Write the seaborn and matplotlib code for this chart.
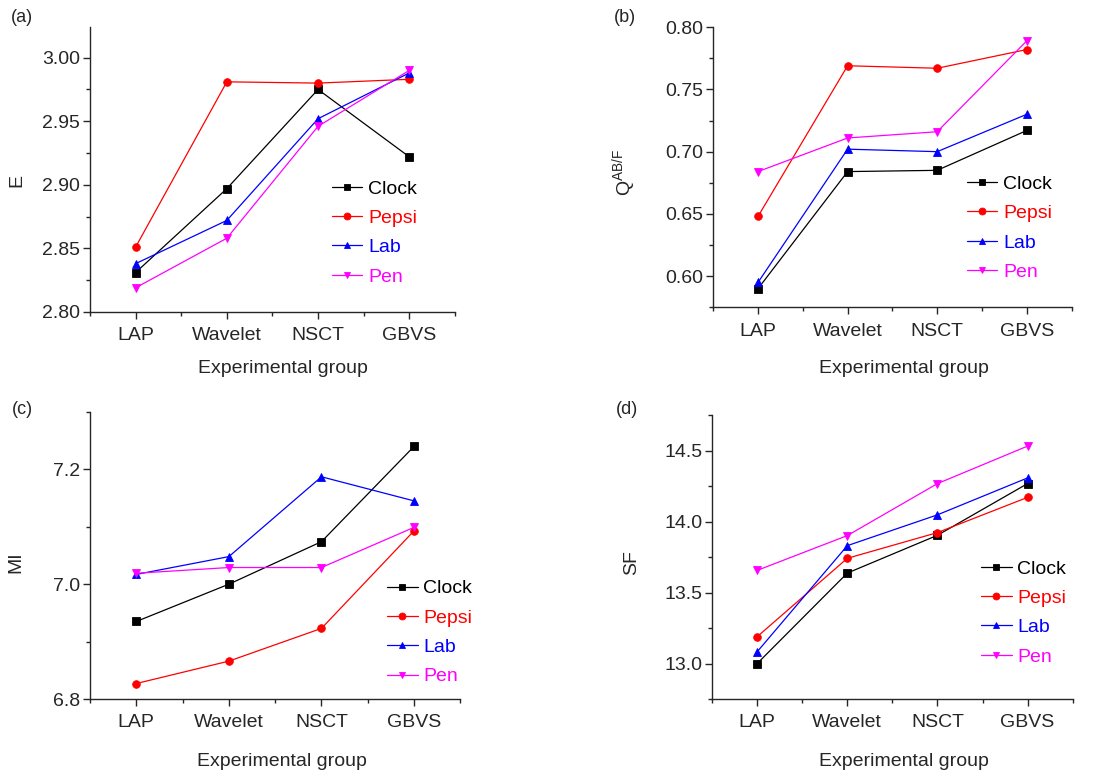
import numpy as np
import pandas as pd
import matplotlib
matplotlib.use("Agg")
import matplotlib.pyplot as plt
import seaborn as sns
from matplotlib.ticker import MultipleLocator, FixedLocator

# data
methods = ["LAP", "Wavelet", "NSCT", "GBVS"]
images = ["Clock", "Pepsi", "Lab", "Pen"]

E_clock = [2.831, 2.897, 2.975, 2.922]
E_pepsi = [2.851, 2.981, 2.980, 2.983]
E_lab = [2.838, 2.872, 2.952, 2.988]
E_pen = [2.819, 2.858, 2.946, 2.990]

Q_clock = [0.590, 0.684, 0.685, 0.717]
Q_pepsi = [0.648, 0.769, 0.767, 0.782]
Q_lab = [0.595, 0.702, 0.700, 0.730]
Q_pen = [0.684, 0.711, 0.716, 0.789]

MI_clock = [6.935, 7.000, 7.074, 7.240]
MI_pepsi = [6.827, 6.866, 6.923, 7.093]
MI_lab = [7.017, 7.048, 7.187, 7.145]
MI_pen = [7.019, 7.029, 7.029, 7.099]

SF_clock = [13.00, 13.637, 13.903, 14.267]
SF_pepsi = [13.189, 13.741, 13.922, 14.170]
SF_lab = [13.083, 13.830, 14.047, 14.307]
SF_pen = [13.656, 13.901, 14.267, 14.531]

sns.set_style("ticks")
plt.rcParams['font.family'] = ['Liberation Sans', 'DejaVu Sans']
plt.rcParams['mathtext.fontset'] = 'custom'
plt.rcParams['mathtext.rm'] = 'Liberation Sans'
plt.rcParams['mathtext.it'] = 'Liberation Sans'

palette = {"Clock": "#000000", "Pepsi": "#FF0000", "Lab": "#0000FF", "Pen": "#FF00FF"}
markers = {"Clock": "s", "Pepsi": "o", "Lab": "^", "Pen": "v"}


def make_df(vals):
    rows = []
    for name, v in zip(images, vals):
        for i, m in enumerate(methods):
            rows.append({"Image": name, "pos": i, "Method": m, "value": v[i]})
    return pd.DataFrame(rows)


fig = plt.figure(figsize=(10.99, 7.76), dpi=100)

panels = [
    # rect, data, ylabel, ylim, major, minor, tag pos, ylabel pos, xlabel pos, legend pos
    ([0.0819, 0.598, 0.332, 0.367], [E_clock, E_pepsi, E_lab, E_pen], "E",
     (2.80, 3.024), 0.05, 0.025, (22, 17), (-0.178, 0.46), (0.529, -0.168), (0.663, 0.463), "%.2f"),
    ([0.649, 0.604, 0.326, 0.361], [Q_clock, Q_pepsi, Q_lab, Q_pen], r"Q$^{\mathrm{AB/F}}$",
     (0.575, 0.80), 0.05, 0.025, (625, 17), (-0.209, 0.48), (0.533, -0.189), (0.709, 0.471), "%.2f"),
    ([0.0819, 0.0992, 0.337, 0.370], [MI_clock, MI_pepsi, MI_lab, MI_pen], "MI",
     (6.80, 7.30), 0.2, 0.1, (22, 410), (-0.176, 0.477), (0.519, -0.188), (0.803, 0.415), "%.1f"),
    ([0.648, 0.0992, 0.328, 0.366], [SF_clock, SF_pepsi, SF_lab, SF_pen], "SF",
     (12.75, 14.75), 0.5, 0.25, (627, 410), (-0.200, 0.479), (0.533, -0.190), (0.747, 0.489), "%.1f"),
]
tags = ["(a)", "(b)", "(c)", "(d)"]

for k, (rect, vals, ylab, ylim, maj, mnr, tagpos, ylpos, xlpos, legpos, fmt) in enumerate(panels):
    ax = fig.add_axes(rect)
    df = make_df(vals)
    sns.lineplot(data=df, x="pos", y="value", hue="Image", style="Image",
                 palette=palette, markers=markers, dashes=False, ax=ax,
                 linewidth=0.9, markersize=5.5, markeredgewidth=0.6)
    for ln in ax.lines:
        ln.set_markeredgecolor(ln.get_color())
    ax.set_xlim(-0.5, 3.5)
    ax.set_ylim(*ylim)
    ax.xaxis.set_major_locator(FixedLocator(range(len(methods))))
    ax.set_xticklabels(methods)
    ax.xaxis.set_minor_locator(FixedLocator([-0.5, 0.5, 1.5, 2.5, 3.5]))
    ax.yaxis.set_major_locator(MultipleLocator(maj))
    ax.yaxis.set_minor_locator(MultipleLocator(mnr))
    ax.yaxis.set_major_formatter(matplotlib.ticker.FormatStrFormatter(fmt))
    ax.tick_params(axis='both', which='major', length=5, width=1, labelsize=14, pad=2)
    ax.tick_params(axis='x', which='major', pad=6)
    ax.tick_params(axis='both', which='minor', length=3, width=1)
    for s in ["top", "right"]:
        ax.spines[s].set_visible(False)
    for s in ["left", "bottom"]:
        ax.spines[s].set_linewidth(1)
    ax.set_ylabel(ylab, fontsize=14)
    ax.yaxis.set_label_coords(*ylpos)
    ax.set_xlabel("Experimental group", fontsize=14)
    ax.xaxis.set_label_coords(*xlpos)
    ax.xaxis.label.set_va("top")

    leg = ax.legend(loc="upper left", bbox_to_anchor=legpos, frameon=False,
                    fontsize=14, borderpad=0, labelspacing=0.6,
                    handlelength=1.55, handletextpad=0.3, borderaxespad=0)
    for txt, h, name in zip(leg.get_texts(), leg.legend_handles, images):
        txt.set_color(palette[name])
        h.set_markeredgecolor(palette[name])
        h.set_markersize(5)

    fig.text(tagpos[0] / 1099, 1 - tagpos[1] / 776, tags[k], fontsize=13,
             ha="center", va="center")

fig.savefig("out.png", dpi=100)
